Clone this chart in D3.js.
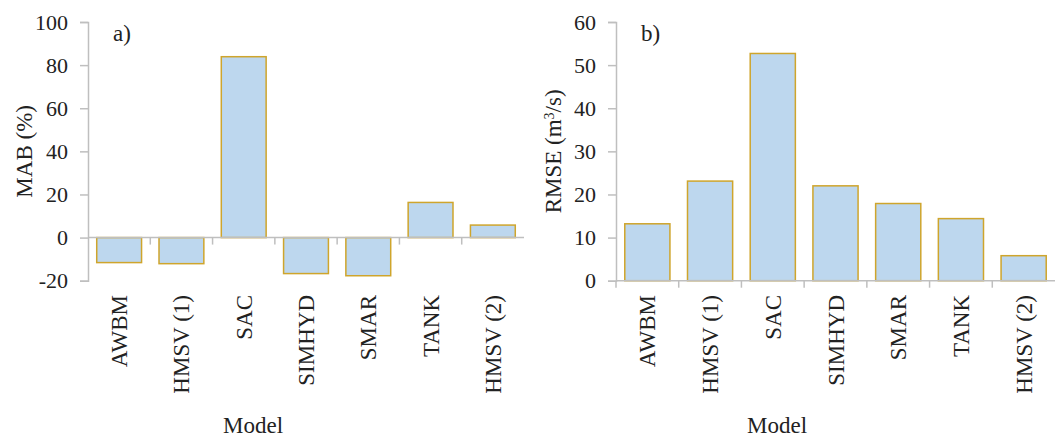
<!DOCTYPE html>
<html>
<head>
<meta charset="utf-8">
<script src="https://cdn.jsdelivr.net/npm/d3@7"></script>
<style>
  html, body { margin: 0; padding: 0; background: #fff; }
  svg { display: block; }
  text { font-family: "Liberation Serif", "Times New Roman", serif; fill: #222; }
</style>
</head>
<body>
<svg id="chart" width="1057" height="438"></svg>
<script>
// Hydrological model comparison
const models = ["AWBM", "HMSV (1)", "SAC", "SIMHYD", "SMAR", "TANK", "HMSV (2)"];
const mabValues = [-11.6, -12.1, 83.9, -16.7, -17.7, 16.3, 5.8];
const rmseValues = [13.2, 23.1, 52.7, 22.0, 17.9, 14.4, 5.8];
const mabTicks = [-20, 0, 20, 40, 60, 80, 100];
const rmseTicks = [0, 10, 20, 30, 40, 50, 60];

const svg = d3.select("#chart");
const axisColor = "#BFBFBF";
const barFill = "#BDD7EE";
const barStroke = "#CFA52C";
const tickFont = 22;
const labelFont = 23;

function panel(opts) {
  const { left, right, top, bottom, values, ticks, domain, yLabel, tag, labelX, modelX } = opts;
  const g = svg.append("g");
  const x = d3.scaleBand().domain(models).range([left, right]).paddingInner(0.28).paddingOuter(0.14);
  const y = d3.scaleLinear().domain(domain).range([bottom, top]);

  // value axis
  const yAxis = g.append("g")
    .attr("transform", `translate(${left},0)`)
    .call(d3.axisLeft(y).tickValues(ticks).tickSize(8).tickPadding(12).tickFormat(d => String(d)));
  yAxis.select(".domain").attr("stroke", axisColor).attr("stroke-width", 1.5);
  yAxis.selectAll(".tick line").attr("stroke", axisColor).attr("stroke-width", 1.5);
  yAxis.selectAll(".tick text")
    .attr("font-size", tickFont).attr("font-family", "Liberation Serif").attr("fill", "#222");

  // bars
  g.selectAll("rect.bar").data(values).enter().append("rect")
    .attr("class", "bar")
    .attr("x", (d, i) => x(models[i]))
    .attr("width", x.bandwidth())
    .attr("y", d => y(Math.max(0, d)))
    .attr("height", d => Math.abs(y(d) - y(0)))
    .attr("fill", barFill)
    .attr("stroke", barStroke)
    .attr("stroke-width", 1.5);

  // category axis along zero
  const step = x.step();
  const edges = d3.range(models.length + 1).map(i => left + i * step);
  g.append("line")
    .attr("x1", left).attr("x2", right)
    .attr("y1", y(0)).attr("y2", y(0))
    .attr("stroke", axisColor).attr("stroke-width", 1.5);
  g.selectAll("line.cat-tick").data(edges.slice(1, -1)).enter().append("line")
    .attr("class", "cat-tick")
    .attr("x1", d => d).attr("x2", d => d)
    .attr("y1", y(0)).attr("y2", y(0) + 7)
    .attr("stroke", axisColor).attr("stroke-width", 1.5);
  if (domain[0] === 0) {
    g.append("line")
      .attr("x1", left).attr("x2", left)
      .attr("y1", y(0)).attr("y2", y(0) + 7)
      .attr("stroke", axisColor).attr("stroke-width", 1.5);
  }

  // rotated category labels
  g.selectAll("text.cat").data(models).enter().append("text")
    .attr("class", "cat")
    .attr("transform", d => `translate(${x(d) + x.bandwidth() / 2 + 8},295) rotate(-90)`)
    .attr("text-anchor", "end")
    .attr("font-size", labelFont)
    .text(d => d);

  // axis titles
  const mid = (top + bottom) / 2;
  const yl = g.append("text")
    .attr("transform", `translate(${labelX},${mid}) rotate(-90)`)
    .attr("text-anchor", "middle")
    .attr("font-size", labelFont);
  yLabel(yl);

  g.append("text")
    .attr("x", modelX).attr("y", 433)
    .attr("text-anchor", "middle")
    .attr("font-size", labelFont)
    .text("Model");

  g.append("text")
    .attr("x", left + 25).attr("y", 41)
    .attr("font-size", labelFont)
    .text(tag);
}

panel({
  left: 88, right: 524, top: 22, bottom: 280.7,
  values: mabValues, ticks: mabTicks, domain: [-20, 100],
  yLabel: t => t.text("MAB (%)"),
  tag: "a)", labelX: 32, modelX: 253
});

panel({
  left: 616, right: 1055, top: 22, bottom: 280.7,
  values: rmseValues, ticks: rmseTicks, domain: [0, 60],
  yLabel: t => {
    t.append("tspan").text("RMSE (m");
    t.append("tspan").attr("baseline-shift", "super").attr("font-size", 14).text("3");
    t.append("tspan").text("/s)");
  },
  tag: "b)", labelX: 561, modelX: 777
});
</script>
</body>
</html>
